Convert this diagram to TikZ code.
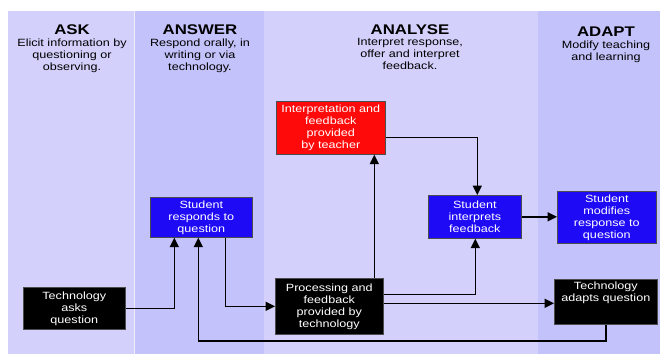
\documentclass[tikz,border=0pt]{standalone}
\usepackage{fontspec}
\setmainfont{Liberation Sans}[FakeStretch=1.2]
\usetikzlibrary{arrows.meta}
\definecolor{bgA}{RGB}{211,209,252}
\definecolor{bgB}{RGB}{196,194,251}
\definecolor{nblue}{RGB}{30,10,245}
\definecolor{nred}{RGB}{254,10,10}
\begin{document}
\begin{tikzpicture}[x=1pt,y=-1pt,
  box/.style={draw=black!70, line width=0.6pt, align=center, text=white,
    font=\fontsize{10.5}{12}\selectfont, inner sep=0pt, anchor=north west},
  conn/.style={line width=1.5pt, -{Triangle[length=9.5pt,width=9pt]}},
  head/.style={font=\bfseries\fontsize{14}{16}\selectfont, anchor=base, inner sep=0pt},
  sub/.style={font=\fontsize{10.5}{12}\selectfont, align=center, anchor=north, inner sep=0pt}]
\useasboundingbox (0,0) rectangle (660,354);
\fill[white] (0,0) rectangle (660,354);
\fill[bgA] (8,11) rectangle (134,354);
\fill[bgB] (134,11) rectangle (264,354);
\fill[bgA] (264,11) rectangle (538,354);
\fill[bgB] (538,11) rectangle (660,354);
\draw[white!60!bgA, line width=0.6pt] (134,11) -- (134,354);
% headings
\node[head] (hask) at (72,34) {ASK};
\node[sub] (sask) at (72,38.5) {Elicit information by\\questioning or\\observing.};
\node[head] (hans) at (200,34) {ANSWER};
\node[sub] (sans) at (200,38.5) {Respond orally, in\\writing or via\\technology.};
\node[head] (hana) at (410,34) {ANALYSE};
\node[sub] (sana) at (410,38.5) {Interpret response,\\offer and interpret\\feedback.};
\node[head] (hada) at (606,36) {ADAPT};
\node[sub] (sada) at (606,40.5) {Modify teaching\\and learning};
% boxes
\node[box, fill=nred, minimum width=109pt, minimum height=53pt] (red) at (276,101)
  {Interpretation and\\feedback\\provided\\by teacher};
\node[box, fill=nblue, minimum width=102pt, minimum height=40pt] (sresp) at (150,197)
  {Student\\responds to\\question};
\node[box, fill=black, minimum width=102pt, minimum height=42pt] (task) at (23,287)
  {Technology\\asks\\question};
\node[box, fill=black, minimum width=108pt, minimum height=56pt] (proc) at (275,278)
  {Processing and\\feedback\\provided by\\technology};
\node[box, fill=nblue, minimum width=93pt, minimum height=43pt] (sint) at (428,195)
  {Student\\interprets\\feedback};
\node[box, fill=nblue, minimum width=99pt, minimum height=52pt] (smod) at (557,191)
  {Student\\modifies\\response to\\question};
\node[box, fill=black, minimum width=103pt, minimum height=45pt] (tadapt) at (554,279) {};
\node[sub, text=white, anchor=north] (tadtxt) at ([yshift=-3pt]tadapt.north)
  {Technology\\adapts question};
% connectors
\coordinate (loop) at (0,341);
\draw[conn] (task.east) -| ([xshift=-27pt]sresp.south);
\draw[conn] ([xshift=24pt]sresp.south) |- (proc.west);
\draw[conn] (tadapt.south) |- ([xshift=-3pt]sresp.south |- loop) -- ([xshift=-3pt]sresp.south);
\draw[conn] ([xshift=45pt]proc.north) -- ([xshift=45pt]proc.north |- red.south);
\draw[conn] ([yshift=-9.5pt]red.east) -| ([xshift=2.5pt]sint.north);
\draw[conn] ([yshift=12pt]proc.east) -| ([xshift=0.5pt]sint.south);
\draw[conn] ([yshift=3pt]proc.east) -- ([yshift=3pt]proc.east -| tadapt.west);
\draw[conn] (sint.east) -- (sint.east -| smod.west);
\end{tikzpicture}
\end{document}
